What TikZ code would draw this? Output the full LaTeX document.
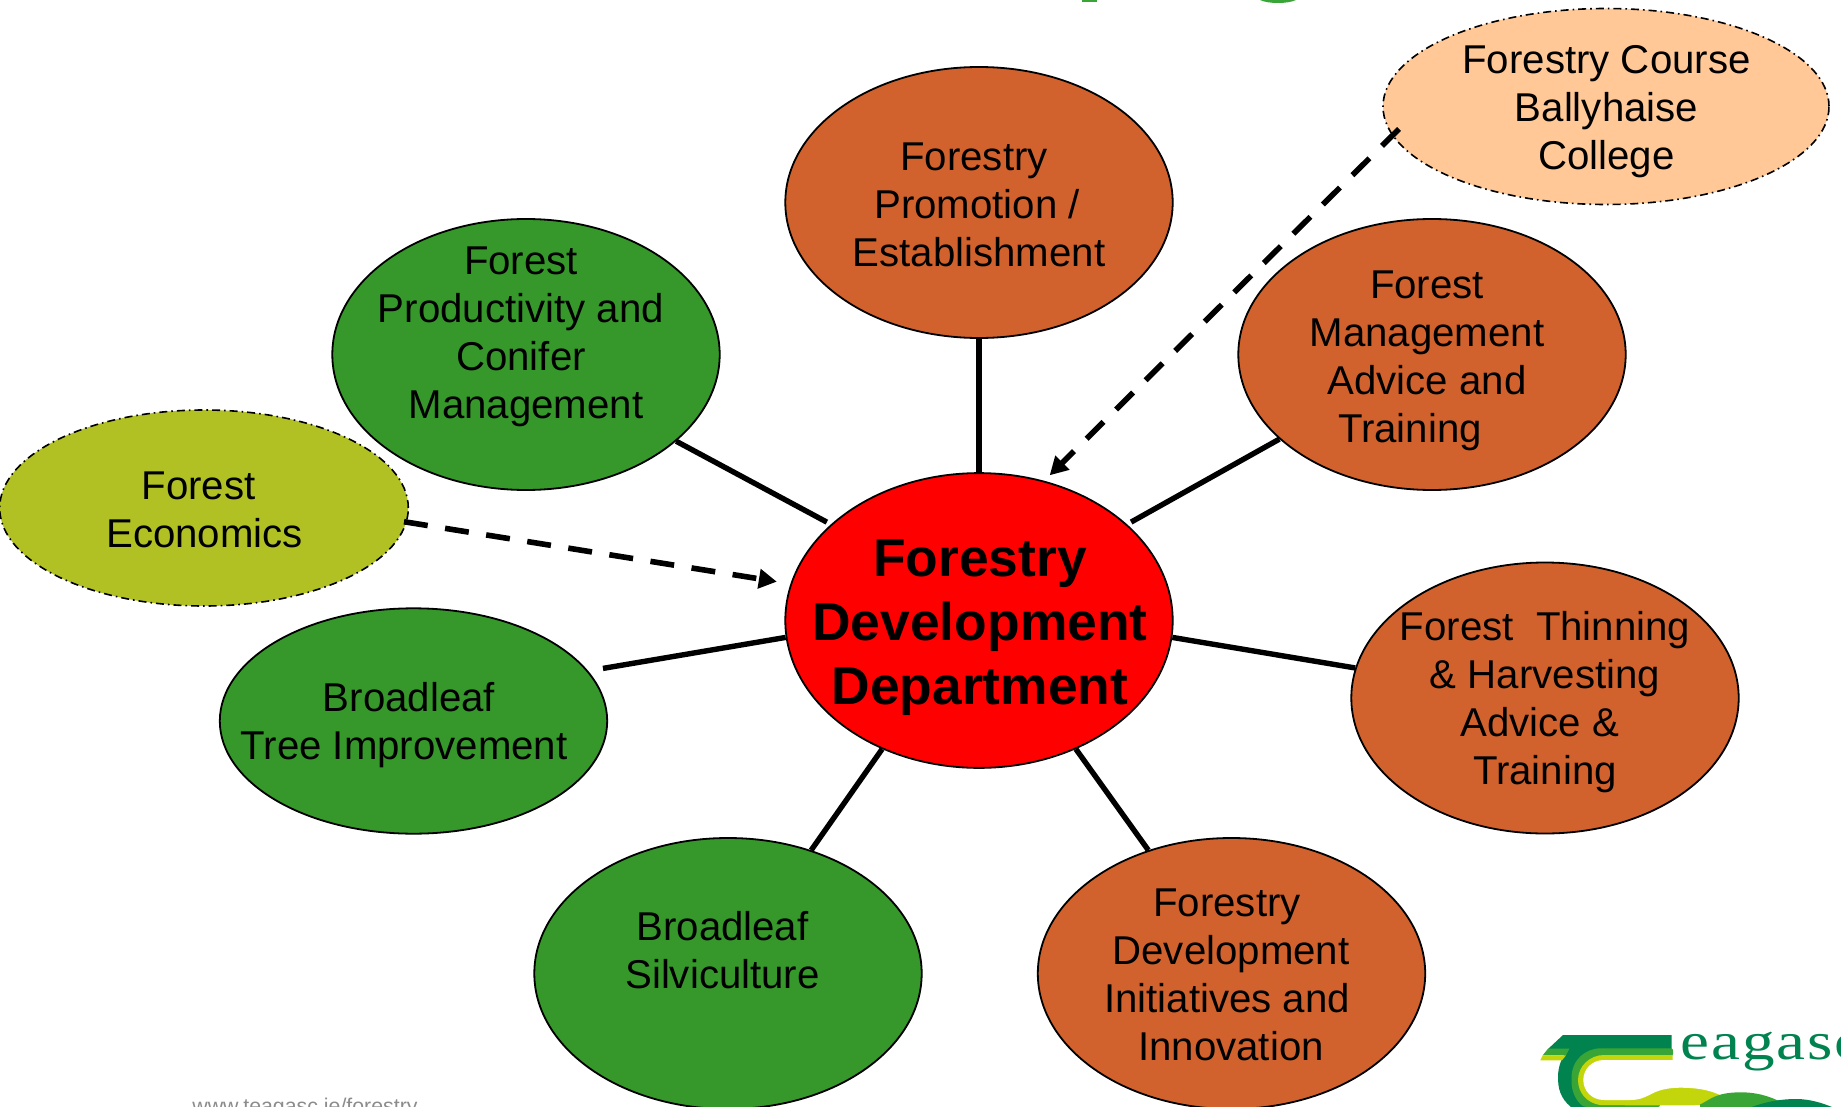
\documentclass[tikz,border=0pt]{standalone}
\usepackage{fontspec}
\setmainfont{Liberation Sans}
\newfontfamily\logofont[LetterSpace=3]{Liberation Serif}
\usetikzlibrary{shapes.geometric,arrows.meta}
\definecolor{leaf}{HTML}{36982B}
\definecolor{rust}{HTML}{D2622D}
\definecolor{olive}{HTML}{B1C124}
\definecolor{peach}{HTML}{FFC896}
\definecolor{logoteal}{HTML}{00834F}
\definecolor{logogreen}{HTML}{38A536}
\definecolor{logolime}{HTML}{C3D60B}
\tikzset{
  x=0.5pt,y=-0.5pt,
  blob/.style={ellipse,draw=black,line width=0.9pt,inner sep=0pt,minimum width=193.7pt,minimum height=135.5pt},
  soft/.style={draw=black,line width=0.8pt,dash pattern=on 4pt off 2pt on 0.8pt off 2pt},
  label/.style={align=center,font=\fontsize{20.1}{24}\selectfont,inner sep=0pt},
  spoke/.style={line width=2.7pt,black},
  link/.style={line width=2.8pt,black,dash pattern=on 12pt off 8.8pt,-{Triangle[length=9pt,width=9.5pt]}},
}
\begin{document}
\begin{tikzpicture}
\useasboundingbox (0,0) rectangle (1841,1107);
\clip (0,0) rectangle (1841,1107);
% clipped title remnants
\fill[logogreen] (1082,0) rectangle (1097,2);
\fill[logogreen] (1260,0) .. controls (1268,4) and (1288,4) .. (1296,0) -- cycle;
% ellipses
\node[blob,fill=red,minimum height=147.4pt] (hub) at (979,620.5) {};
\node[blob,fill=rust] (promo) at (979,202.5) {};
\node[blob,fill=rust] (mgmt) at (1432,354.5) {};
\node[blob,fill=rust] (thin) at (1545,698) {};
\node[blob,fill=rust] (init) at (1231.5,973.5) {};
\node[blob,fill=leaf] (prod) at (526,354.5) {};
\node[blob,fill=leaf,minimum height=112.7pt] (tree) at (413.5,721) {};
\node[blob,fill=leaf] (silv) at (728,973.5) {};
\node[ellipse,soft,fill=olive,inner sep=0pt,minimum width=204.3pt,minimum height=98pt] (econ) at (204,508) {};
\node[ellipse,soft,fill=peach,inner sep=0pt,minimum width=223pt,minimum height=98pt] (coll) at (1606,106.5) {};
\coordinate (collout) at (1399,129);
% connectors
\draw[spoke] (hub.90) -- (promo.270);
\draw[spoke,shorten <=2.3pt] (hub.33) -- (mgmt.209.5);
\draw[spoke,shorten <=2.3pt] (hub.147) -- (prod.330.5);
\draw[spoke] (hub.355.6) -- (thin.171);
\draw[spoke,shorten >=7.5pt] (hub.185.3) -- (tree.16.3);
\draw[spoke] (hub.233.7) -- (silv.56.8);
\draw[spoke] (hub.307.1) -- (init.124.3);
\draw[link,shorten <=-1.5pt,shorten >=6.9pt] (econ.356.3) -- (hub.169.6);
\draw[link,shorten >=3.9pt] (collout) -- (hub.65);
% labels
\node[label] (promot) at (979,204.5) {\hspace*{-5pt}Forestry\\\hspace*{-2pt}Promotion /\\Establishment};
\node[label] (mgmtt) at (1427,361) {Forest\\Management\\Advice and\\\hspace*{-17pt}Training};
\node[label] (prodt) at (521,336.5) {Forest\\Productivity and\\Conifer\\\hspace*{5pt}Management};
\node[label] (thint) at (1545,702) {Forest \ Thinning\\\& Harvesting\\\hspace*{-5pt}Advice \&\\Training};
\node[label] (initt) at (1227,975) {Forestry\\\hspace*{4pt}Development\\Initiatives and\\\hspace*{4pt}Innovation};
\node[label] (treet) at (404,725.5) {\hspace*{5pt}Broadleaf\\Tree Improvement};
\node[label] (silvt) at (722.5,950) {Broadleaf\\Silviculture};
\node[label] (econt) at (204.5,510) {\hspace*{-6pt}Forest\\Economics};
\node[label] (collt) at (1606.5,111.5) {Forestry Course\\Ballyhaise\\College};
\node[label,font=\fontsize{26.7}{32}\selectfont\bfseries] (hubt) at (980,627.5) {Forestry\\Development\\Department};
% footer
\node[anchor=base west,inner sep=0pt,text=black!45,font=\fontsize{10.66}{12}\selectfont] (web) at (192,1113) {www.teagasc.ie/forestry};
% logo
\fill[logoteal] (1563,1035) -- (1671.7,1035) -- (1671.7,1050) -- (1620,1050) -- (1620,1107) -- (1571,1107) .. controls (1560,1098) and (1558,1088) .. (1558,1077) .. controls (1558,1066) and (1562,1056) .. (1569,1049) -- (1548,1049) -- cycle;
\fill[logogreen] (1548,1048.7) -- (1569.3,1048.7) -- (1566,1055.3) -- (1542.7,1055.3) -- cycle;
\fill[logolime] (1542.7,1055.3) -- (1566,1055.3) -- (1562,1060.3) -- (1540.3,1060.3) -- cycle;
\fill[logogreen,rounded corners=1pt] (1673,1048.3) -- (1673,1056) -- (1660,1056) -- (1660,1107) -- (1584,1107) .. controls (1575,1100) and (1571.5,1090) .. (1571.5,1080) .. controls (1571.5,1060) and (1585,1048.3) .. (1603,1048.3) -- cycle;
\fill[logolime] (1672.7,1055) -- (1672.7,1061) -- (1730,1061) -- (1730,1104) .. controls (1700,1106) and (1650,1105.5) .. (1600,1105) .. controls (1587,1103) and (1578,1093) .. (1578,1080) .. controls (1578,1066) and (1590,1055) .. (1604,1055) -- cycle;
\fill[white] (1841,1060) -- (1604,1060) .. controls (1592,1060) and (1583.3,1069) .. (1583.3,1080) .. controls (1583.3,1091) and (1592,1100) .. (1604,1100) -- (1630,1100) .. controls (1640,1100) and (1645,1097) .. (1650,1094.7) .. controls (1658,1090) and (1668,1087.7) .. (1680,1087.7) .. controls (1700,1087.7) and (1712,1091) .. (1721,1095.5) -- (1841,1107) -- cycle;
\fill[logogreen] (1700,1107) -- (1700,1104.5) .. controls (1710,1100) and (1715,1092.3) .. (1741,1092.3) .. controls (1760,1092.3) and (1775,1098) .. (1790,1107) -- cycle;
\fill[logoteal] (1751.7,1107) .. controls (1765,1102) and (1780,1099) .. (1796,1099) .. controls (1810,1099) and (1822,1103) .. (1832,1107) -- cycle;
\node[anchor=base west,inner sep=0pt,text=logoteal,font=\logofont\fontsize{26.7}{30}\selectfont] (logoword) at (1680,1059.7) {\scalebox{1.22}[1]{eagasc}};
\end{tikzpicture}
\end{document}
